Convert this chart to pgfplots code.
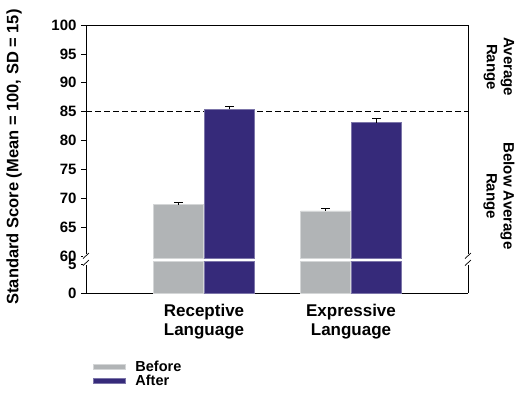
\documentclass[border=0pt]{standalone}
\usepackage{pgfplots}
\pgfplotsset{compat=1.18}
\usepackage{fontspec}
\setmainfont{Liberation Sans}

\definecolor{before}{HTML}{B1B4B6}
\definecolor{after}{HTML}{362A7A}

\begin{document}
\begin{tikzpicture}[x=1pt,y=1pt]
\useasboundingbox (0pt,0pt) rectangle (522pt,-392pt);

\pgfplotsset{
  brk/.style={
    scale only axis, width=382pt,
    xmin=0.197, xmax=2.796,
    ybar=1pt, bar width=50pt,
    tick align=outside,
    major tick length=5pt,
    ytick pos=left,
    /pgf/number format/assume math mode=true,
    yticklabel style={font=\bfseries\fontsize{15}{17}\selectfont, xshift=-1pt},
    tick style={black, line width=0.6pt},
    axis line style={black, line width=0.8pt},
  },
  bbar/.style={fill=before, draw=before!55!white, line width=0.7pt},
  abar/.style={fill=after, draw=after!65!white, line width=0.7pt},
}

% upper part of the broken axis: 60 to 100
% x: category position, y: mean score, e: standard error (upper side only)
\begin{axis}[brk, name=up,
  at={(86pt,-258.3pt)}, anchor=south west, height=233.3pt,
  ymin=59.6, ymax=100, ytick={60,65,...,100},
  axis x line*=top, axis y line*=left,
  xtick=\empty,
  error bars/y dir=plus, error bars/y explicit,
  error bars/error bar style={black, line width=0.7pt},
  error bars/error mark options={black, line width=0.7pt, mark size=4.5pt, rotate=90},
]
\draw[black, line width=0.8pt, dash pattern=on 6pt off 3pt]
  (axis cs:0.197,85) -- (axis cs:2.796,85);
\addplot[bbar] table[x=x, y=y, y error=e] {
x y e
1 68.9 0.4
2 67.8 0.5
};
\addplot[abar] table[x=x, y=y, y error=e] {
x y e
1 85.4 0.5
2 83.1 0.7
};
\end{axis}

% lower part of the broken axis: 0 to 5
\begin{axis}[brk, name=lo,
  at={(86pt,-293pt)}, anchor=south west, height=31.8pt,
  ymin=0, ymax=5.5, ytick={0,5},
  axis x line*=bottom, axis y line*=left,
  xtick={1,2},
  xticklabels={Receptive\\Language, Expressive\\Language},
  xticklabel style={font=\bfseries\fontsize{17}{19}\selectfont, align=center, yshift=-3pt},
  x tick style={draw=none},
  legend style={at={(axis description cs:0.0105,-2.0)}, anchor=north west,
    draw=none, fill=none, font=\bfseries\fontsize{14.5}{15}\selectfont,
    row sep=-2pt,
    /tikz/every odd column/.append style={column sep=7.5pt}},
  legend cell align=left,
  legend image code/.code={\fill[#1] (0pt,-2.5pt) rectangle (32pt,2.5pt);},
]
\addplot[bbar] coordinates {(1,5.5) (2,5.5)};
\addplot[abar] coordinates {(1,5.5) (2,5.5)};
\legend{Before, After}
\end{axis}

% right-hand frame line and the break marks on both sides
\draw[black, line width=0.8pt] (up.north east) -- (lo.south east);
\fill[white] (83pt,-254pt) rectangle (89.5pt,-264.5pt);
\fill[white] (465pt,-254pt) rectangle (471.5pt,-264.5pt);
\foreach \xx in {86,468}{
  \draw[black, line width=0.7pt] (\xx pt-3pt,-258.5pt) -- (\xx pt+3pt,-253pt);
  \draw[black, line width=0.7pt] (\xx pt-3pt,-265.5pt) -- (\xx pt+3pt,-260pt);
}

% axis titles
\node[rotate=90, font=\bfseries\fontsize{16.5}{19}\selectfont] at (14pt,-157pt)
  {Standard Score (Mean = 100, SD = 15)};
\node[rotate=-90, align=center, font=\bfseries\fontsize{15}{17}\selectfont] at (499pt,-67pt)
  {Average\\Range};
\node[rotate=-90, align=center, font=\bfseries\fontsize{15}{17}\selectfont] at (499pt,-196pt)
  {Below Average\\Range};
\end{tikzpicture}
\end{document}
